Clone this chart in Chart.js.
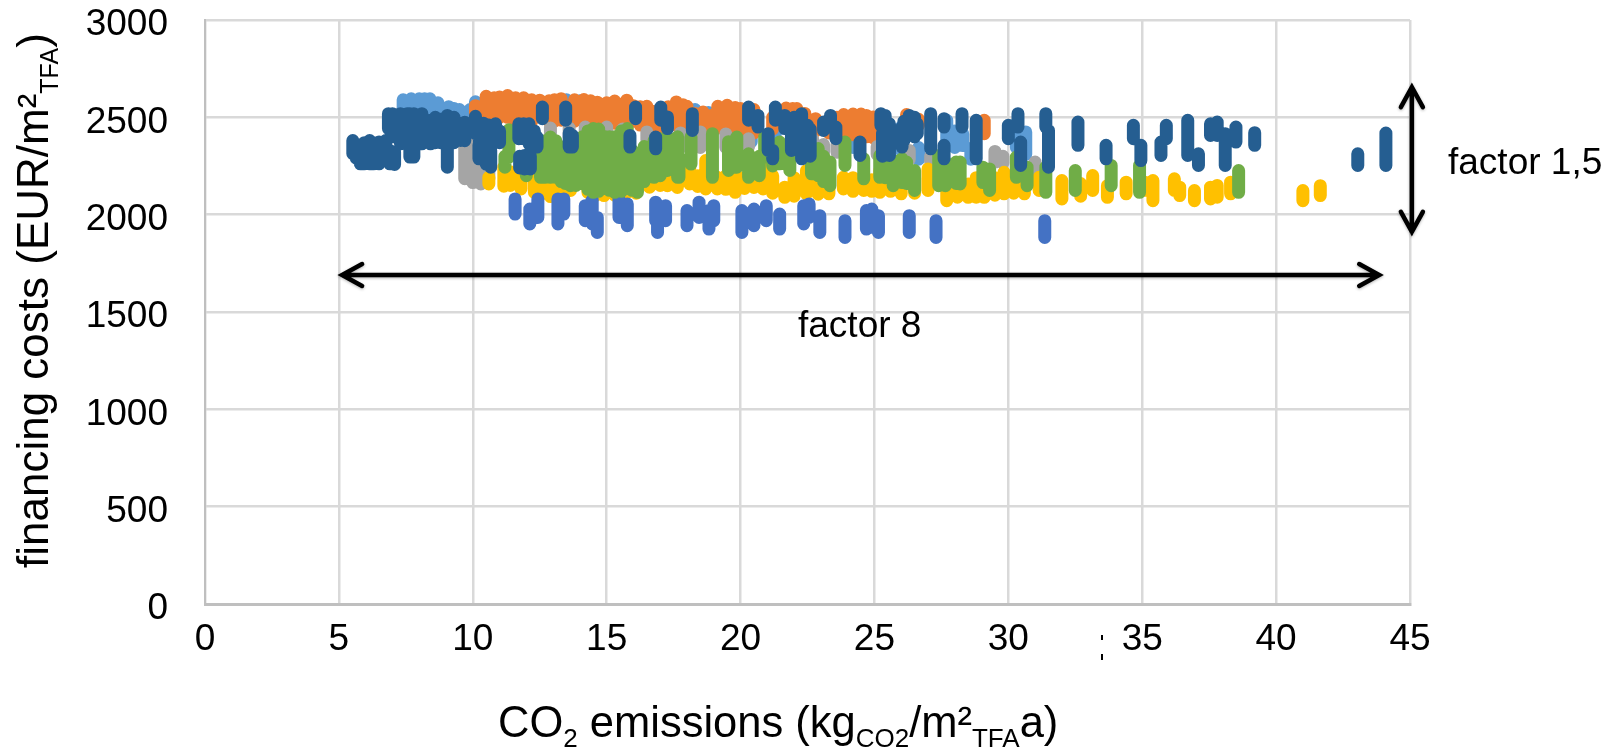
<!DOCTYPE html>
<html>
<head>
<meta charset="utf-8">
<script src="https://cdn.jsdelivr.net/npm/chart.js@4"></script>
<style>
body{margin:0;background:#fff}
canvas{display:block}
</style>
</head>
<body>
<canvas id="chart" width="1618" height="748"></canvas>
<script>

const xTicks = [0,5,10,15,20,25,30,35,40,45]
const yTicks = [0,500,1000,1500,2000,2500,3000]

// each row: x, then the y values read in that vertical column of dots
const lightBlue = [
[7.4,2590,2550,2510],[7.7,2595,2550,2510],[8.0,2595,2550,2510],[8.2,2595,2510],[8.4,2595,2550,2510],[8.7,2575,2530,2490],
[9.1,2555,2515,2480],[9.3,2545,2470],[9.5,2540,2500,2460],[9.9,2540,2500,2460],[10.1,2580,2540,2500],[13.5,2590,2550],
[14,2585,2540],[18.3,2540,2490],[18.8,2525,2480],[19.6,2460,2420],[20.4,2485,2450,2410,2375],
[21.3,2500,2460,2415],[22.5,2465,2430,2400],[24.2,2415,2380,2345],[26,2450,2410,2370,2330],[26.65,2345,2315,2285],
[27.7,2485,2450,2410,2365],[28,2430,2390,2345],[28.3,2415,2385,2355],[28.6,2340,2310,2285],[30.3,2460,2420,2380,2345],
[30.65,2425,2390,2350,2310]
]

const orange = [
[10.1,2560,2520,2485],[10.5,2608,2570,2530,2500],[10.8,2600,2480],[11,2605,2565,2530,2500],[11.3,2612,2575,2535,2500],[11.6,2600,2480],
[11.9,2600,2560,2525,2500],[12.2,2590,2480],[12.5,2588,2550,2510],[12.85,2585,2480],[13.05,2590,2480],[13.3,2596,2560,2520,2485],
[13.8,2590,2550,2510,2480],[14.15,2591,2555,2515,2480],[14.4,2585,2470],[14.65,2578,2540,2500,2470],[15,2575,2470],
[15.3,2584,2545,2505,2470],[15.75,2588,2550,2510,2470],[16,2560,2520,2480],[16.25,2555,2460],[16.5,2557,2520,2480,2450],[16.75,2530,2440],
[17,2530,2490,2450],[17.3,2555,2450],[17.6,2579,2540,2500,2460],[17.85,2565,2450],[18.0,2557,2520,2480,2450],[18.3,2520,2450],
[18.6,2527,2490,2455],[18.9,2510,2440],[19.15,2557,2520,2480,2445],[19.5,2562,2525,2485,2445],[19.8,2550,2440],[20,2545,2510,2470,2435],
[20.25,2530,2430],[20.5,2540,2500,2460,2420],[21.2,2500,2440],[21.7,2548,2510,2470],[21.95,2545,2450],[22.1,2545,2510,2470,2440],
[22.4,2520,2440],[22.8,2493,2460,2430],[23.3,2480,2450,2420],[23.6,2500,2420],[23.85,2514,2480,2445,2410],[24.2,2517,2410],
[24.5,2517,2480,2445,2405],[24.7,2510,2400],[24.95,2502,2465,2430,2395],[26.2,2514,2480,2450],[26.65,2490,2460],[29.1,2485,2450,2416]
]

const gray = [
[9.7,2350,2310,2270,2230,2185],[10.0,2360,2320,2280,2240,2200,2165],[10.3,2360,2320,2280,2240,2200,2158],[10.6,2300,2260,2220,2185],
[12.9,2445,2400],[13.6,2445,2400],[14.2,2450,2400],[15,2450,2400],[15.6,2440,2400],[16.5,2425,2385],[17.76,2420,2385,2345],
[18.5,2425,2385,2345],[19.45,2415,2380,2345],[20.3,2390,2350],[22.7,2385,2345],[23.1,2360,2320],[23.6,2360,2320],[25.1,2350,2310],
[26.3,2330,2285],[27.1,2300,2270],[29.5,2325,2290,2270],[29.8,2300,2265],[31,2270,2235]
]

const yellow = [
[10.6,2192,2158],[11.16,2244,2205,2170,2146],[11.4,2220,2150],[11.8,2210,2170,2132],[12.3,2192,2150,2115],[12.6,2190,2110],[12.9,2141,2115,2093],
[13.2,2170,2095],[13.65,2158,2124],[14.3,2150,2115],[14.6,2150,2100],[14.9,2124,2098],[15.3,2140,2100],[15.7,2140,2105],[16.1,2150,2110],
[16.6,2158,2141],[17,2190,2150],[17.27,2192,2170,2149],[17.64,2175,2140],[18.1,2261,2220,2190,2158],[18.4,2200,2145],
[18.7,2278,2240,2200,2165,2132],[19.13,2192,2160,2132],[19.45,2200,2130],[19.8,2227,2190,2150,2115],[20.15,2190,2160,2135],[20.5,2190,2140],
[20.84,2244,2210,2170,2132],[21.2,2200,2110],[21.65,2141,2115,2089],[22,2190,2095],[22.46,2227,2190,2150,2107],[22.9,2190,2105],[23.3,2175,2140,2107],
[23.84,2192,2160,2132],[24.2,2190,2120],[24.6,2158,2124],[24.9,2180,2120],[25.2,2227,2190,2150,2115],[25.6,2190,2120],[26,2158,2130,2107],
[26.5,2190,2110],[27,2235,2200,2160,2124],[27.7,2158,2115,2072],[28.1,2190,2090],[28.5,2158,2120,2089],[28.8,2190,2090],[29.1,2192,2150,2115,2089],
[29.5,2190,2100],[29.84,2218,2180,2140,2107],[30.2,2190,2110],[30.6,2158,2130,2107],[31.15,2192,2160,2124],[32,2175,2130,2081],[32.7,2160,2125,2095],
[33.15,2201,2160,2124],[33.7,2149,2115,2089],[34.4,2167,2135,2107],[35.1,2167,2125],[35.4,2175,2125,2072],[36.2,2184,2150,2124],[36.4,2141,2115,2098],
[36.95,2124,2095,2072],[37.55,2141,2110,2081],[37.8,2150,2120,2090],[38.3,2167,2135,2107],[41,2124,2095,2072],[41.65,2149,2120,2098]
]

const blue = [
[11.58,2081,2040,2003],[12.13,2029,1990,1952],[12.43,2081,2035,1986],[13.18,2081,2015,1952],[13.4,2081,2040,2003],[14.2,2046,2005,1969],
[14.46,2075,2020,1952],[14.65,1986,1945,1909],[15.46,2081,2030,1986],[15.77,2055,2000,1943],[16.83,2064,2015,1969],[17.2,2046,2005,1969],
[16.9,1986,1945,1909],[18,2021,1980,1943],[18.45,2064,2025,1986],[18.82,2021,1975,1926],[19,2046,2005,1969],[20.05,2021,1965,1909],
[20.5,2029,1985,1943],[20.96,2046,2005,1969],[21.46,2003,1965,1926],[22.36,2046,2000,1952],[22.56,2055,2020,1986],[22.96,1995,1950,1909],
[23.9,1969,1925,1883],[24.7,2021,1975,1926],[24.9,2029,1985,1935],[25.15,1995,1950,1909],[26.3,1995,1950,1909],[27.3,1969,1925,1883],
[31.36,1969,1925,1883]
]

const green = [
[11.35,2436,2400,2360,2325,2296],[11.2,2300,2270,2244],[12,2240,2200],[12.53,2364,2320,2280,2235,2192],[12.7,2380,2192],[12.9,2399,2355,2310,2265,2225,2192],
[13.1,2380,2192],[13.3,2340,2300,2260,2220,2170],[13.45,2350,2160],[13.65,2347,2305,2265,2225,2185,2149],[13.85,2350,2150],[14.1,2400,2360,2320,2280,2240,2200,2160],
[14.3,2430,2130],[14.5,2442,2400,2360,2320,2280,2240,2200,2155,2115],[14.7,2440,2120],[14.95,2400,2360,2320,2280,2240,2200,2150],[15.1,2400,2125],
[15.3,2400,2360,2320,2280,2240,2200,2155,2115],[15.55,2430,2120],[15.77,2442,2400,2360,2320,2280,2240,2190,2149],[15.95,2330,2125],
[16.15,2313,2270,2230,2190,2150,2115],[16.4,2350,2170],[16.77,2381,2340,2300,2260,2225,2192],[17,2390,2200],[17.27,2399,2360,2320,2280,2227],
[17.65,2400,2192],[17.7,2296,2260,2225,2192],[18.15,2400,2260],[18.95,2416,2375,2335,2295,2255,2192],[19.55,2375,2227],[19.86,2399,2360,2320,2280,2244],
[20.3,2313,2275,2235,2192],[20.7,2300,2200],[20.9,2399,2365,2330,2296],[21.2,2340,2250],[21.46,2373,2335,2300,2261],[21.84,2321,2285,2227],
[22.65,2338,2300,2255,2210],[22.9,2340,2200],[23.1,2300,2170],[23.34,2270,2230,2190,2149],[23.9,2373,2335,2295,2253],[24.6,2287,2250,2215,2184],
[25.2,2304,2265,2230,2192],[25.4,2300,2190],[25.7,2278,2235,2190,2149],[26.03,2287,2245,2200,2165],[26.2,2270,2160],[26.5,2227,2190,2155,2124],
[27.4,2304,2265,2225,2185,2149],[27.65,2270,2230,2190,2149],[28.05,2270,2160],[28.2,2270,2230,2190,2158],[29.05,2244,2205,2165],
[29.3,2235,2200,2160,2124],[30.3,2296,2260,2225,2192],[30.7,2244,2205,2175,2149],[31.4,2244,2205,2160,2115],[32.5,2227,2190,2155,2124],
[33.84,2253,2215,2180,2149],[34.9,2253,2210,2160,2115],[38.6,2227,2190,2150,2115]
]

const darkBlue = [
[5.52,2381,2345,2313],[5.65,2360,2290],[5.8,2347,2305,2261],[5.95,2370,2261],[6.15,2381,2340,2300,2261],[6.3,2370,2261],[6.5,2373,2330,2295,2261],
[6.75,2381,2345,2305],[6.9,2330,2261],[7.08,2321,2290,2258],[6.85,2519,2480,2442],[7.0,2519,2400],[7.3,2519,2480,2440,2400,2364],[7.55,2519,2370],
[7.65,2519,2296],[7.8,2519,2480,2440,2400,2360,2325,2296],[8.1,2519,2480,2440,2400,2364],[8.42,2485,2445,2405,2364],[8.6,2500,2370],[8.8,2490,2370],
[9.05,2510,2470,2430,2390,2350,2310,2275,2244],[9.3,2500,2370],[9.55,2467,2425,2381],[9.7,2475,2380],[10.1,2505,2460,2416],[10.4,2470,2400],[10.6,2460,2370],
[10.85,2467,2420,2373],[11,2430,2370],[10.23,2356,2320,2287],[10.25,2400,2290],[10.5,2350,2260],[10.67,2330,2285,2244],[11.72,2467,2430,2390],[11.9,2467,2390],
[12.1,2467,2415,2364],[12.3,2430,2350],[12.4,2399,2370,2347],[11.75,2300,2240],[11.93,2304,2270,2235],[12.15,2300,2235],[12.6,2553,2520,2493],
[13.47,2553,2520,2485],[13.6,2420,2347],[13.72,2407,2375,2347],[16.08,2553,2520,2493],[15.87,2407,2375,2347],[17.02,2553,2520,2485],[17.27,2502,2470,2442],
[16.83,2399,2365,2338],[18.2,2519,2475,2433],[20.3,2553,2520,2485],[20.65,2510,2480,2450],[21.3,2553,2520,2485],[21.65,2510,2475,2442],
[21.03,2416,2375,2330],[21.2,2330,2305,2287],[21.9,2440,2330],[22,2500,2340],[22.28,2519,2480,2445,2405,2365,2325,2287],[22.5,2459,2410,2364],[22.6,2440,2300],
[23.1,2476,2455,2433],[23.36,2510,2480,2450],[23.56,2450,2420,2390],[24.46,2373,2340,2304],[25.24,2519,2490,2459],[25.3,2420,2300],[25.4,2510,2440],
[25.56,2467,2430,2390,2345,2304],[26.03,2450,2400,2347],[26.1,2480,2380],[26.3,2510,2480,2450],[26.5,2500,2400],[26.6,2467,2440,2416],[27.1,2519,2475,2430,2385,2338],
[27.6,2493,2470,2450],[27.6,2356,2320,2287],[28.27,2519,2485,2450],[28.8,2485,2445,2405,2365,2325,2287],[30,2459,2425,2390],[30.36,2519,2485,2450],
[30.46,2373,2340,2305,2253],[31.4,2519,2485,2450],[31.5,2433,2395,2355,2315,2280,2244],[32.6,2476,2440,2400,2356],[33.65,2356,2320,2287],[34.67,2459,2425,2390],
[34.95,2356,2315,2278],[35.7,2373,2340,2304],[35.9,2459,2425,2390],[36.7,2485,2450,2410,2370,2335,2304],[37.1,2313,2285,2253],[37.55,2467,2435,2407],[37.8,2476,2440,2407],
[38.1,2416,2375,2335,2295,2253],[38.5,2450,2410,2373],[39.2,2421,2390,2356],[43.05,2313,2285,2253],[44.1,2419,2385,2350,2315,2285,2253]
]

const seriesList = [
{name:"Series 1",rows:lightBlue,color:"#5B9BD5"},
{name:"Series 2",rows:orange,color:"#ED7D31"},
{name:"Series 3",rows:gray,color:"#A5A5A5"},
{name:"Series 4",rows:yellow,color:"#FFC000"},
{name:"Series 5",rows:blue,color:"#4472C4"},
{name:"Series 6",rows:green,color:"#70AD47"},
{name:"Series 7",rows:darkBlue,color:"#255E91"}
]

// arrow ends in chart units
const spanArrowX = [5.12,43.85]
const spanArrowY = [1690,1690]
const heightArrowX = [45.07,45.07]
const heightArrowY = [2655,1912]

const fontName = "'Liberation Sans', Arial, sans-serif"
const fontSize = 37

// a null y between rows breaks the line, so every row is one round capped column
function toPoints(rows){
let pts = []
rows.forEach(r=>{
for(let i=1;i<r.length;i++){
pts.push({x:r[0],y:r[i]})
}
pts.push({x:r[0],y:null})
})
return pts
}

// runs of normal and subscript text on one baseline
function drawRuns(ctx,runs,x,y,size,subSize){
ctx.textAlign = "left"
ctx.textBaseline = "alphabetic"
ctx.fillStyle = "#000"
let cx = x
runs.forEach(r=>{
ctx.font = (r.sub ? subSize : size)+"px "+fontName
ctx.fillText(r.t,cx,r.sub ? y+10 : y)
cx += ctx.measureText(r.t).width
})
}

function drawArrow(ctx,x1,y1,x2,y2){
let a = Math.atan2(y2-y1,x2-x1)
ctx.beginPath()
ctx.moveTo(x1,y1)
ctx.lineTo(x2,y2)
;[[x1,y1,a+Math.PI],[x2,y2,a]].forEach(h=>{
let hx = h[0], hy = h[1], ang = h[2]
ctx.moveTo(hx-20*Math.cos(ang)-11*Math.sin(ang),hy-20*Math.sin(ang)+11*Math.cos(ang))
ctx.lineTo(hx,hy)
ctx.lineTo(hx-20*Math.cos(ang)+11*Math.sin(ang),hy-20*Math.sin(ang)-11*Math.cos(ang))
})
ctx.stroke()
}

const overlayPlugin = {
id:"overlay",
afterDraw(chart){
const ctx = chart.ctx
const sx = chart.scales.x
const sy = chart.scales.y

ctx.save()
ctx.strokeStyle = "#000"
ctx.lineWidth = 4.5
ctx.lineCap = "round"
ctx.lineJoin = "miter"
ctx.shadowColor = "rgba(0,0,0,0.3)"
ctx.shadowBlur = 3
ctx.shadowOffsetY = 1
drawArrow(ctx,sx.getPixelForValue(spanArrowX[0]),sy.getPixelForValue(spanArrowY[0]),sx.getPixelForValue(spanArrowX[1]),sy.getPixelForValue(spanArrowY[1]))
drawArrow(ctx,sx.getPixelForValue(heightArrowX[0]),sy.getPixelForValue(heightArrowY[0]),sx.getPixelForValue(heightArrowX[1]),sy.getPixelForValue(heightArrowY[1]))
ctx.restore()

ctx.save()
drawRuns(ctx,[{t:"factor 1,5"}],1448,174,37,26)
drawRuns(ctx,[{t:"factor 8"}],798,337,37,26)
drawRuns(ctx,[{t:"CO"},{t:"2",sub:true},{t:" emissions (kg"},{t:"CO2",sub:true},{t:"/m²"},{t:"TFA",sub:true},{t:"a)"}],498,737,43.5,26)
// the stray clipped mark left of the 35 label
ctx.fillStyle = "#000"
ctx.fillRect(1101,635,2,5)
ctx.fillRect(1101,654,2,6)
ctx.restore()

ctx.save()
ctx.translate(48,568)
ctx.rotate(-Math.PI/2)
drawRuns(ctx,[{t:"financing costs (EUR/m²"},{t:"TFA",sub:true},{t:")"}],0,0,44,25)
ctx.restore()
}
}

new Chart(document.getElementById("chart"),{
type:"scatter",
data:{
datasets:seriesList.map((s,i)=>({
label:s.name,
data:toPoints(s.rows),
showLine:true,
spanGaps:false,
backgroundColor:s.color,
borderColor:s.color,
borderWidth:13,
borderCapStyle:"round",
borderJoinStyle:"round",
pointRadius:0,
order:seriesList.length-i
}))
},
options:{
responsive:false,
animation:false,
devicePixelRatio:1,
layout:{padding:{left:0,right:208,top:20,bottom:0}},
plugins:{legend:{display:false},tooltip:{enabled:false}},
scales:{
x:{
type:"linear",
min:0,
max:45,
afterFit:s=>{s.height = 144;s.paddingLeft = 0;s.paddingRight = 0},
afterBuildTicks:s=>{s.ticks = xTicks.map(v=>({value:v}))},
grid:{color:"#D9D9D9",lineWidth:2.5,drawTicks:false},
border:{color:"#BFBFBF",width:3},
ticks:{color:"#000",font:{family:fontName,size:fontSize},padding:14,maxRotation:0,callback:v=>String(v)}
},
y:{
min:0,
max:3000,
afterFit:s=>{s.width = 205;s.paddingTop = 0;s.paddingBottom = 0},
afterBuildTicks:s=>{s.ticks = yTicks.map(v=>({value:v}))},
grid:{color:"#D9D9D9",lineWidth:2.5,drawTicks:false},
border:{color:"#BFBFBF",width:2},
ticks:{color:"#000",font:{family:fontName,size:fontSize},padding:37,labelOffset:5,callback:v=>String(v)}
}
}
},
plugins:[overlayPlugin]
})

</script>
</body>
</html>
